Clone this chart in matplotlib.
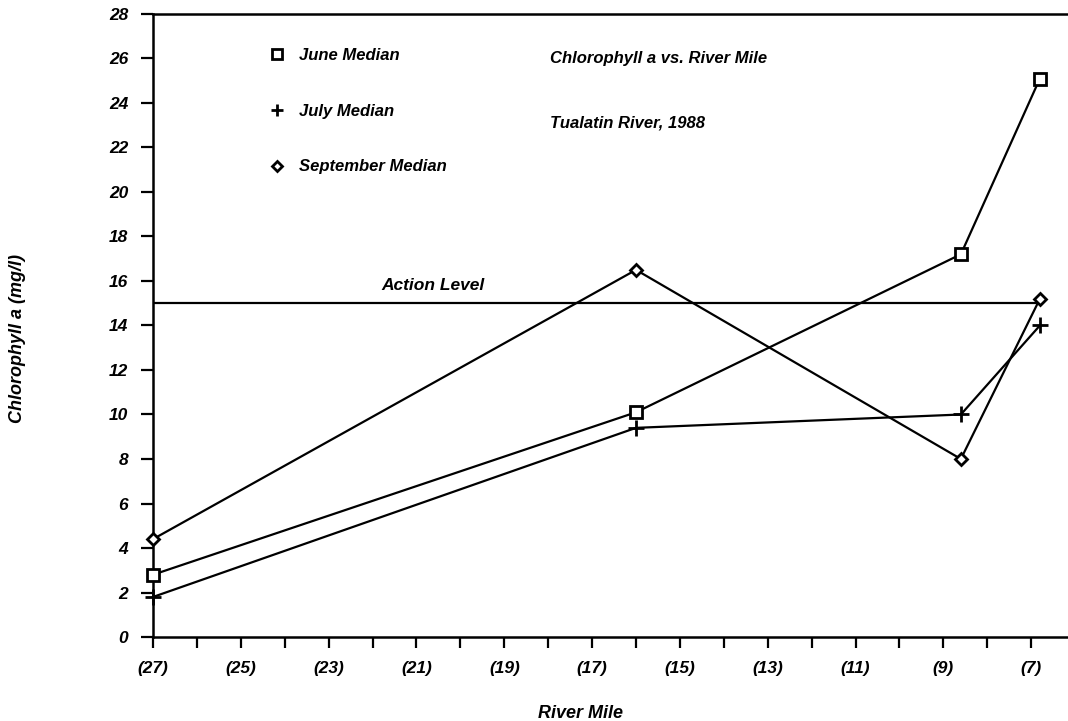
import matplotlib
matplotlib.use("Agg")
import matplotlib.pyplot as plt
from matplotlib.lines import Line2D

# river mile of each sampling site and median chlorophyll a per month
river_mile = [27, 16, 8.6, 6.8]
june_median = [2.8, 10.1, 17.2, 25.1]
july_median = [1.8, 9.4, 10.0, 14.0]
september_median = [4.4, 16.5, 8.0, 15.2]

action_level = 15

mile_ticks = [27, 25, 23, 21, 19, 17, 15, 13, 11, 9, 7]
mile_labels = ["(27)", "(25)", "(23)", "(21)", "(19)", "(17)", "(15)", "(13)", "(11)", "(9)", "(7)"]
minor_miles = [26, 24, 22, 20, 18, 16, 14, 12, 10, 8]
conc_ticks = list(range(0, 29, 2))

plt.rcParams["font.family"] = ["Liberation Sans", "DejaVu Sans"]
plt.rcParams["font.weight"] = "bold"
plt.rcParams["font.style"] = "italic"
plt.rcParams["axes.labelweight"] = "bold"

fig = plt.figure(figsize=(10.68, 7.21), dpi=100)
ax = fig.add_axes([0.1433, 0.1165, 0.8567, 0.8641])

lw = 1.6
ax.plot(river_mile, june_median, color="black", lw=lw, marker="s", ms=8.5,
        mfc="white", mec="black", mew=2, zorder=3, clip_on=False)
ax.plot(river_mile, july_median, color="black", lw=lw, marker="+", ms=11,
        mew=2, zorder=3, clip_on=False)
ax.plot(river_mile, september_median, color="black", lw=lw, marker="D", ms=6.5,
        mfc="white", mec="black", mew=2, zorder=3, clip_on=False)

ax.hlines(action_level, 27, 6.8, color="black", lw=lw)
ax.text(21.8, action_level + 0.45, "Action Level", fontsize=12.5, ha="left", va="bottom")

ax.set_xlim(27, 6.16)
ax.set_ylim(0, 28)

ax.set_xticks(mile_ticks)
ax.set_xticklabels(mile_labels)
ax.set_xticks(minor_miles, minor=True)
ax.set_yticks(conc_ticks)

ax.tick_params(axis="both", which="both", direction="out", width=1.6, labelsize=12.5)
ax.tick_params(axis="y", length=9, pad=9)
ax.tick_params(axis="x", which="both", length=8, pad=9)

for side in ["left", "bottom", "top"]:
    ax.spines[side].set_linewidth(1.8)
ax.spines["right"].set_visible(False)

ax.set_xlabel("River Mile", fontsize=13, fontweight="bold")
ax.xaxis.set_label_coords(0.467, -0.109)
fig.text(0.016, 0.53, "Chlorophyll a (mg/l)", rotation=90, fontsize=13,
         fontweight="bold", ha="center", va="center")

# marker key in the upper left
handles = [
    Line2D([], [], ls="none", marker="s", ms=7, mfc="white", mec="black", mew=2),
    Line2D([], [], ls="none", marker="+", ms=9, mec="black", mew=2),
    Line2D([], [], ls="none", marker="D", ms=5, mfc="white", mec="black", mew=2),
]
ax.legend(handles, ["June Median", "July Median", "September Median"],
          loc="upper left", bbox_to_anchor=(0.110, 0.970), frameon=False,
          fontsize=12, labelspacing=2.45, handlelength=1.0, handletextpad=0.8)

ax.text(0.434, 0.929, "Chlorophyll a vs. River Mile", transform=ax.transAxes,
        fontsize=12, ha="left", va="center")
ax.text(0.434, 0.825, "Tualatin River, 1988", transform=ax.transAxes,
        fontsize=12, ha="left", va="center")

fig.savefig("out.png", dpi=100)
